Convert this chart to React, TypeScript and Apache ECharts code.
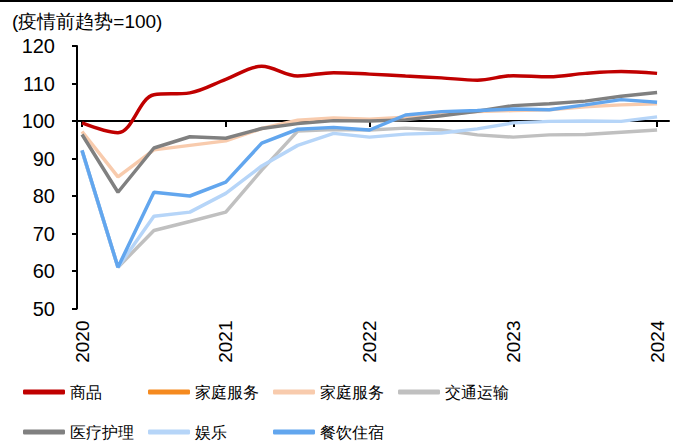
import React, { useEffect, useRef } from "react";
import * as echarts from "echarts";

const quarters = [
  "2020Q1","2020Q2","2020Q3","2020Q4",
  "2021Q1","2021Q2","2021Q3","2021Q4",
  "2022Q1","2022Q2","2022Q3","2022Q4",
  "2023Q1","2023Q2","2023Q3","2023Q4",
  "2024Q1",
];
const yearTicks = [2020, 2021, 2022, 2023, 2024];

const goods = [99.5, 96.9, 107.0, 107.5, 111.1, 114.6, 112.0, 112.9, 112.5, 112.0, 111.5, 110.9, 112.1, 111.8, 112.7, 113.2, 112.7];
const household: number[] = [];
const householdLight = [97.2, 85.1, 92.3, 93.5, 94.7, 98.0, 100.2, 100.8, 100.5, 101.0, 101.8, 102.5, 102.8, 103.0, 103.8, 104.3, 104.6];
const transport = [92.0, 61.0, 70.8, 73.2, 75.7, 86.9, 97.3, 97.7, 97.6, 98.1, 97.6, 96.3, 95.7, 96.3, 96.4, 97.0, 97.6];
const medical = [96.4, 81.0, 92.8, 95.8, 95.4, 98.0, 99.3, 100.1, 100.0, 100.3, 101.4, 102.6, 104.1, 104.6, 105.3, 106.6, 107.6];
const entertainment = [92.0, 61.0, 74.6, 75.7, 80.7, 88.0, 93.5, 96.7, 95.7, 96.5, 96.8, 97.9, 99.5, 99.9, 100.0, 99.9, 101.1];
const dining = [92.2, 61.0, 81.0, 80.0, 83.7, 94.1, 97.8, 98.3, 97.6, 101.6, 102.5, 102.8, 103.2, 103.0, 104.3, 105.7, 105.0];

const seriesNames = ["商品", "家庭服务A", "家庭服务B", "交通运输", "医疗护理", "娱乐", "餐饮住宿"];
const seriesLabels = ["商品", "家庭服务", "家庭服务", "交通运输", "医疗护理", "娱乐", "餐饮住宿"];
const seriesColors = ["#C00000", "#F58A1F", "#F8CBAD", "#C0C0C0", "#808080", "#B6D5F8", "#62A6EE"];
const seriesData = [goods, household, householdLight, transport, medical, entertainment, dining];

const legendLeft = [23, 148, 273, 398, 23, 148, 273];
const legendTop = [384, 384, 384, 384, 424, 424, 424];

const toX = (i: number) => 2020 + i / 4;

export default function App() {
  const ref = useRef<HTMLDivElement>(null);
  useEffect(() => {
    if (!ref.current) return;
    document.body.style.margin = "0";
    const chart = echarts.init(ref.current, null, { renderer: "svg" });
    const labelMap: Record<string, string> = {};
    seriesNames.forEach((n, i) => (labelMap[n] = seriesLabels[i]));

    const series = seriesNames.map((name, k) => ({
      name,
      type: "line",
      xAxisIndex: 0,
      yAxisIndex: 0,
      data: seriesData[k].map((v, i) => [toX(i), v]),
      showSymbol: false,
      symbol: "none",
      smooth: k === 0 ? 0.35 : false,
      lineStyle: { color: seriesColors[k], width: 3.5 },
      itemStyle: { color: seriesColors[k] },
      z: k === 0 ? 10 : 2 + k,
    }));

    const legends = seriesNames.map((name, k) => ({
      show: true,
      data: [name],
      left: legendLeft[k],
      top: legendTop[k],
      padding: 0,
      itemWidth: 42,
      itemHeight: 5,
      itemGap: 0,
      icon: "roundRect",
      selectedMode: false,
      formatter: (n: string) => labelMap[n],
      textStyle: { fontSize: 16, color: "#000", fontFamily: "serif", padding: [0, 0, 0, 0] },
    }));

    chart.setOption({
      animation: false,
      backgroundColor: "#fff",
      grid: { left: 77, right: 11, top: 46, bottom: 132.5, containLabel: false },
      title: {
        text: "(疫情前趋势=100)",
        left: 12,
        top: 12,
        padding: 0,
        textStyle: { fontSize: 19, fontWeight: "normal", color: "#000", fontFamily: "Liberation Sans, sans-serif" },
      },
      legend: legends,
      graphic: [
        { type: "line", shape: { x1: 0, y1: 1, x2: 673, y2: 1 }, style: { stroke: "#000", lineWidth: 2 } },
      ],
      xAxis: [
        {
          type: "value",
          min: 2019.965,
          max: 2024.083,
          position: "bottom",
          splitLine: { show: false },
          axisLine: { show: false },
          axisTick: { show: false },
          axisLabel: {
            customValues: yearTicks,
            rotate: 90,
            margin: 12,
            fontSize: 19,
            color: "#000",
            fontFamily: "Liberation Sans, Arial, sans-serif",
            formatter: (v: number) => String(v),
          },
        },
        {
          type: "value",
          min: 2019.965,
          max: 2024.083,
          position: "bottom",
          offset: -187.5,
          splitLine: { show: false },
          axisLine: { show: true, onZero: false, lineStyle: { color: "#000", width: 2 } },
          axisTick: { show: true, customValues: yearTicks, length: 6, lineStyle: { color: "#000", width: 2 } },
          axisLabel: { show: false },
        },
      ],
      yAxis: {
        type: "value",
        min: 50,
        max: 120,
        interval: 10,
        splitLine: { show: false },
        axisLine: { show: true, lineStyle: { color: "#000", width: 2 } },
        axisTick: { show: true, length: 5, lineStyle: { color: "#000", width: 2 } },
        axisLabel: { margin: 22, fontSize: 20, color: "#000", fontFamily: "Liberation Sans, Arial, sans-serif" },
      },
      series,
    });
    return () => chart.dispose();
  }, []);
  return <div ref={ref} style={{ width: 680, height: 441 }} />;
}
